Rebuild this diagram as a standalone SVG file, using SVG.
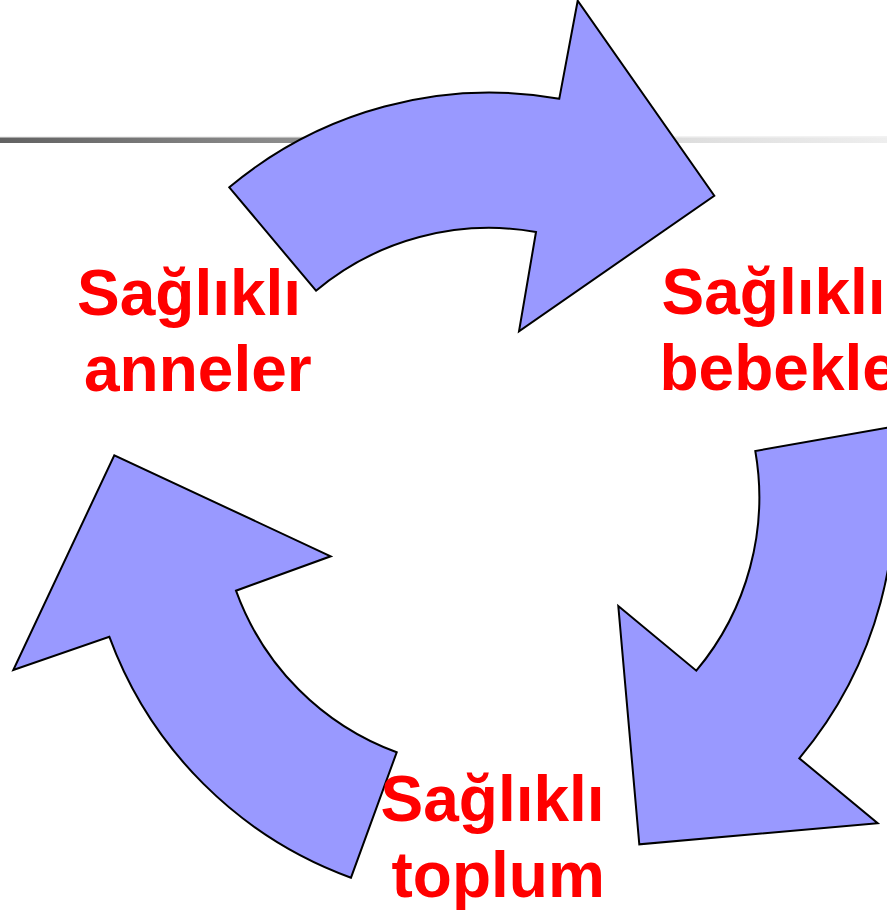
<svg xmlns="http://www.w3.org/2000/svg" width="887" height="914" viewBox="0 0 887 914">
  <defs>
    <linearGradient id="ruleGrad" x1="0" y1="0" x2="1" y2="0">
      <stop offset="0" stop-color="#626262"/>
      <stop offset="0.35" stop-color="#909090"/>
      <stop offset="0.7" stop-color="#d8d8d8"/>
      <stop offset="1" stop-color="#eeeeee"/>
    </linearGradient>
    <style>
      .arrow { fill: #9999ff; stroke: #000000; stroke-width: 2; stroke-linejoin: miter; }
      .label { font-family: "Liberation Sans", Arial, sans-serif; font-weight: bold; font-size: 64px; fill: #ff0000; }
    </style>
  </defs>

  <rect width="887" height="914" fill="#ffffff"/>

  <!-- title rule -->
  <rect x="0" y="136.5" width="887" height="1" fill="#e6e6e6"/>
  <rect x="0" y="137.5" width="887" height="5.5" fill="url(#ruleGrad)"/>

  <!-- curved cycle arrows, ring centre (489.5, 498), radii 270 / 405 -->
  <g id="connectors">
    <path id="arrow-top" class="arrow" d="M 229.3,187.3 A 405 405 0 0 1 559.3,98.7 L 577.7,0.7 L 714.3,195.7 L 519,331.3 L 536,232 A 270 270 0 0 0 316,290.7 Z"/>
    <path id="arrow-right" class="arrow" d="M 888.3,427.5 A 405 405 0 0 1 799.3,758.3 L 877.7,823.3 L 639.3,844.3 L 618.3,606 L 696.3,670.7 A 270 270 0 0 0 755.3,451 Z"/>
    <path id="arrow-left" class="arrow" d="M 351,877.7 A 405 405 0 0 1 109.3,636.7 L 13.3,670 L 114.3,455.3 L 330.7,556.3 L 236,590.7 A 270 270 0 0 0 396.7,752.3 Z"/>
  </g>

  <g id="node-anneler">
    <text class="label" x="77" y="315">Sağlıklı</text>
    <text class="label" x="84" y="391">anneler</text>
  </g>

  <g id="node-bebekler">
    <text class="label" x="661.5" y="314">Sağlıklı</text>
    <text class="label" x="659.5" y="389.5">bebekle</text>
  </g>

  <g id="node-toplum">
    <text class="label" x="380.5" y="821">Sağlıklı</text>
    <text class="label" x="391.5" y="896.5">toplum</text>
  </g>
</svg>
